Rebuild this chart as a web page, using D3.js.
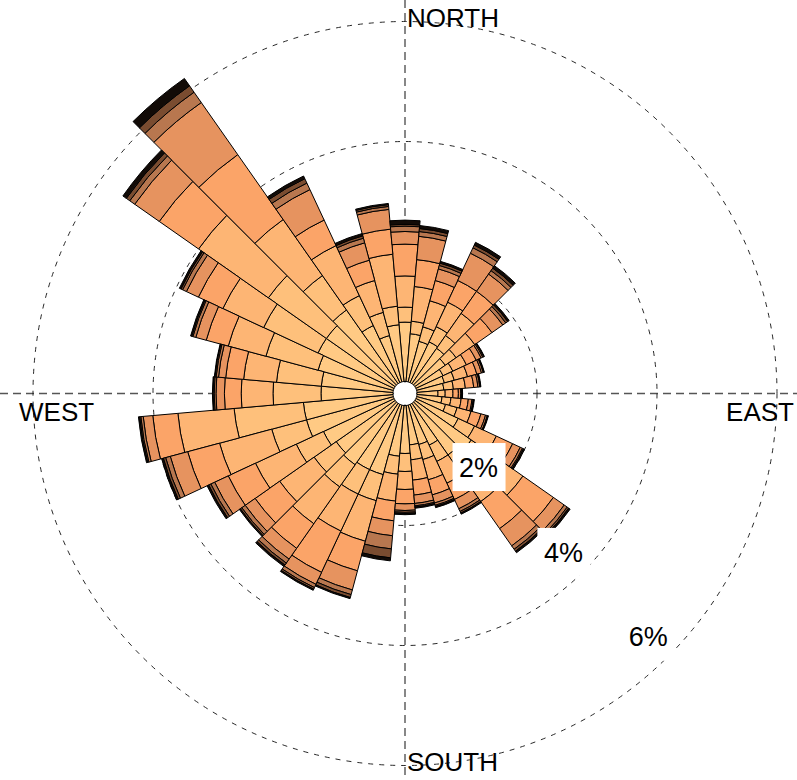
<!DOCTYPE html>
<html>
<head>
<meta charset="utf-8">
<script src="https://cdn.jsdelivr.net/npm/d3@7"></script>
<style>
  html, body { margin: 0; padding: 0; background: #fff; }
  svg { display: block; }
  text { font-family: "Liberation Sans", Arial, sans-serif; }
</style>
</head>
<body>
<svg id="rose" width="797" height="780"></svg>
<script>
// Wind direction sectors (degrees clockwise from north), 10° wide
const directions = [0,10,20,30,40,50,60,70,80,90,100,110,120,130,140,150,160,170,
                    180,190,200,210,220,230,240,250,260,270,280,290,300,310,320,330,340,350];

// Frequency (%) of each speed class per direction, calm to strongest
const speed1 = [0.99,0.80,0.70,0.75,0.72,0.62,0.50,0.48,0.45,0.35,0.42,0.50,0.78,1.15,1.05,0.75,0.68,0.66,
                0.80,0.85,1.20,1.20,1.25,1.20,1.30,1.50,1.50,1.20,1.20,1.30,1.40,1.40,1.50,1.05,0.80,0.95];
const speed2 = [0.25,0.21,0.25,0.28,0.26,0.22,0.18,0.17,0.16,0.12,0.15,0.20,0.30,0.45,0.40,0.30,0.26,0.25,
                0.30,0.30,0.45,0.45,0.45,0.45,0.50,0.60,1.16,0.80,0.75,0.90,1.00,1.18,0.70,0.55,0.40,0.31];
const speed3 = [0.52,0.58,0.45,0.45,0.45,0.38,0.25,0.23,0.20,0.13,0.17,0.24,0.40,0.60,0.55,0.40,0.35,0.34,
                0.30,0.45,0.70,0.68,0.75,0.70,0.75,0.90,0.94,0.53,0.55,0.65,0.75,1.42,1.14,0.92,0.55,0.87];
const speed4 = [0.53,0.45,0.35,0.40,0.45,0.35,0.18,0.16,0.14,0.09,0.12,0.17,0.30,0.62,0.55,0.30,0.26,0.25,
                0.24,0.33,0.51,0.76,0.50,0.50,0.50,0.55,0.42,0.28,0.30,0.38,0.45,0.80,1.32,0.47,0.35,0.42];
const speed5 = [0.21,0.39,0.20,0.50,0.35,0.22,0.09,0.08,0.07,0.04,0.06,0.08,0.14,0.22,0.35,0.17,0.14,0.14,
                0.11,0.25,0.33,0.22,0.22,0.20,0.25,0.30,0.16,0.14,0.12,0.18,0.22,0.50,1.06,0.56,0.30,0.33];
const speed6 = [0.09,0.08,0.06,0.10,0.07,0.06,0.03,0.03,0.03,0.01,0.02,0.03,0.04,0.06,0.07,0.05,0.04,0.04,
                0.03,0.22,0.08,0.06,0.08,0.07,0.07,0.08,0.04,0.03,0.04,0.05,0.07,0.10,0.21,0.12,0.08,0.05];
const speed7 = [0.03,0.05,0.04,0.05,0.05,0.04,0.02,0.01,0.01,0.01,0.01,0.01,0.02,0.03,0.04,0.03,0.02,0.02,
                0.02,0.15,0.05,0.03,0.04,0.03,0.04,0.04,0.02,0.02,0.02,0.02,0.03,0.07,0.13,0.08,0.04,0.03];
const speed8 = [0.07,0.05,0.03,0.05,0.05,0.03,0.01,0.01,0.01,0.01,0.01,0.01,0.02,0.03,0.03,0.02,0.02,0.02,
                0.02,0.05,0.02,0.02,0.03,0.02,0.03,0.03,0.02,0.01,0.01,0.02,0.03,0.07,0.15,0.05,0.04,0.02];

const speedSeries = [speed1, speed2, speed3, speed4, speed5, speed6, speed7, speed8];
const speedColors = ["#ffca84", "#fec07b", "#fdb574", "#fba468", "#e6935f", "#b8774f", "#7a4c30", "#120b07"];

const ringValues = [2, 4, 6];
const ringLabels = ["2%", "4%", "6%"];
const compassLabels = ["NORTH", "EAST", "SOUTH", "WEST"];

const width = 797, height = 780;
const cx = 405, cy = 393.5;

const svg = d3.select("#rose");
const g = svg.append("g").attr("transform", `translate(${cx},${cy})`);

// radial scale: percent -> pixels (bars start outside a small calm hole)
const r = d3.scaleLinear().domain([0, 6]).range([12, 372]);
const toRad = d => d * Math.PI / 180;
const halfWidth = 5;

// table rows: one per direction, keyed by speed class
const keys = speedSeries.map((_, i) => "s" + i);
const rows = directions.map((dir, j) => {
  const row = { dir };
  speedSeries.forEach((s, i) => { row[keys[i]] = s[j]; });
  return row;
});
const stacked = d3.stack().keys(keys)(rows);

// dashed axes
const axisG = g.append("g");
axisG.append("line").attr("x1", 0).attr("x2", 0).attr("y1", -cy).attr("y2", height - cy);
axisG.append("line").attr("x1", -cx).attr("x2", width - cx).attr("y1", 0).attr("y2", 0);
axisG.selectAll("line")
  .attr("stroke", "#555").attr("stroke-width", 1.4).attr("stroke-dasharray", "8,5");

// dashed percentage rings
g.append("g").selectAll("circle").data(ringValues).join("circle")
  .attr("r", d => r(d))
  .attr("fill", "none").attr("stroke", "#111").attr("stroke-width", 0.9)
  .attr("stroke-dasharray", "5,6");

// stacked sectors
const arc = d3.arc();
const barsG = g.append("g");
stacked.forEach((layer, i) => {
  barsG.append("g").selectAll("path").data(layer).join("path")
    .attr("d", d => arc({
      innerRadius: r(d[0]),
      outerRadius: r(d[1]),
      startAngle: toRad(d.data.dir - halfWidth),
      endAngle: toRad(d.data.dir + halfWidth)
    }))
    .attr("fill", speedColors[i])
    .attr("stroke", "#000").attr("stroke-width", 1).attr("stroke-linejoin", "round");
});

// calm hole
g.append("circle").attr("r", 11).attr("fill", "#fff");

// compass labels
const fs = 26;
const compass = [
  { t: compassLabels[0], x: 2, y: -cy + 27, anchor: "start" },
  { t: compassLabels[1], x: width - cx - 3, y: 27, anchor: "end" },
  { t: compassLabels[2], x: 2, y: height - cy - 9, anchor: "start" },
  { t: compassLabels[3], x: -cx + 19, y: 27, anchor: "start" }
];
g.append("g").selectAll("text").data(compass).join("text")
  .attr("x", d => d.x).attr("y", d => d.y)
  .attr("text-anchor", d => d.anchor)
  .attr("font-size", fs).attr("fill", "#000")
  .text(d => d.t);

// ring labels on white boxes along the south-east diagonal
const labelG = g.append("g");
ringValues.forEach((v, i) => {
  const rr = r(v) - 28;
  const a = toRad(135);
  const x = rr * Math.sin(a), y = -rr * Math.cos(a);
  const grp = labelG.append("g").attr("transform", `translate(${x},${y})`);
  grp.append("rect").attr("fill", "#fff")
    .attr("x", -26).attr("y", -24).attr("width", 53).attr("height", 48);
  grp.append("text")
    .attr("text-anchor", "middle").attr("dy", "0.36em")
    .attr("font-size", 27).attr("fill", "#000")
    .text(ringLabels[i]);
});
</script>
</body>
</html>
